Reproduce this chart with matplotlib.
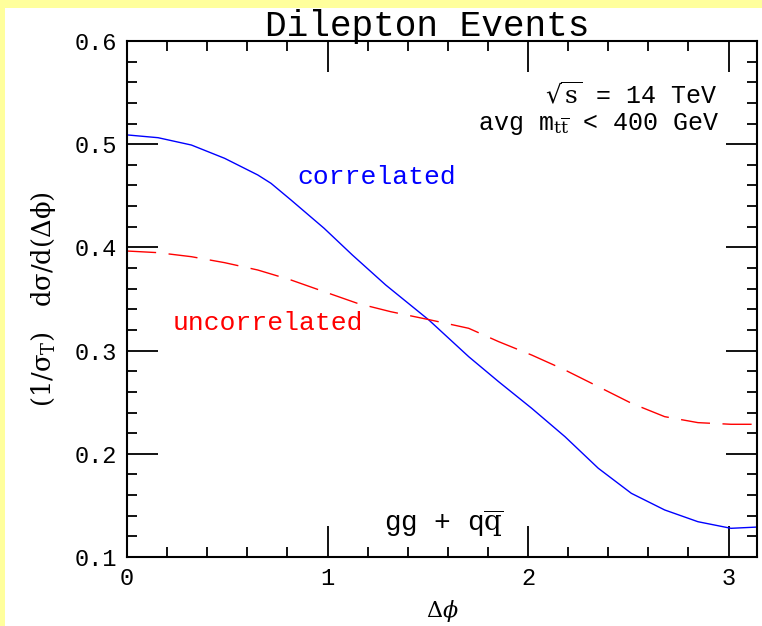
import numpy as np
import matplotlib
matplotlib.use("Agg")
import matplotlib.pyplot as plt
from matplotlib.patches import Rectangle
from matplotlib.ticker import MultipleLocator

# values
dphi_corr = [0.0, 0.155, 0.321, 0.487, 0.652, 0.718, 0.818, 0.983, 1.124, 1.29, 1.505,
             1.704, 1.853, 2.018, 2.184, 2.35, 2.515, 2.681, 2.847, 3.012, 3.1416]
correlated = [0.509, 0.5063, 0.4992, 0.4863, 0.4702, 0.4621, 0.4459, 0.4185, 0.3926, 0.3636, 0.3297,
              0.2941, 0.2699, 0.2441, 0.2166, 0.1860, 0.1617, 0.1456, 0.1342, 0.1278, 0.129]
dphi_unc = [0.0, 0.155, 0.321, 0.487, 0.652, 0.818, 0.983, 1.149, 1.315, 1.513,
            1.704, 1.853, 2.018, 2.184, 2.35, 2.515, 2.681, 2.847, 3.012, 3.1416]
uncorrelated = [0.3965, 0.3949, 0.391, 0.3852, 0.3781, 0.3684, 0.3571, 0.3458, 0.3377, 0.3297,
                0.3216, 0.3087, 0.2957, 0.2812, 0.2651, 0.249, 0.236, 0.2302, 0.2286, 0.2286]

plt.rcParams['mathtext.fontset'] = 'dejavuserif'
mono = ['Liberation Mono', 'DejaVu Sans']

fig = plt.figure(figsize=(7.62, 6.26), dpi=100)
fig.patch.set_facecolor('#ffff9c')
fig.add_artist(Rectangle((5 / 762, 0), 1, 1 - 8 / 626, transform=fig.transFigure,
                         facecolor='white', edgecolor='none', zorder=-1))

ax = fig.add_axes([127 / 762, 1 - 557 / 626, (757 - 127) / 762, (557 - 41) / 626])
ax.set_facecolor('white')

ax.plot(dphi_corr, correlated, color='blue', lw=1.0)
ax.plot(dphi_unc, uncorrelated, color='red', lw=1.0, dashes=(21, 9))

ax.set_xlim(0, np.pi)
ax.set_ylim(0.1, 0.6)
ax.xaxis.set_major_locator(MultipleLocator(1))
ax.xaxis.set_minor_locator(MultipleLocator(0.2))
ax.yaxis.set_major_locator(MultipleLocator(0.1))
ax.yaxis.set_minor_locator(MultipleLocator(0.02))
ax.tick_params(which='both', direction='in', top=True, right=True, width=1.3)
ax.tick_params(which='major', length=22, labelsize=17, pad=7)
ax.tick_params(which='minor', length=7)
for lab in ax.get_xticklabels() + ax.get_yticklabels():
    lab.set_family(mono)
for s in ax.spines.values():
    s.set_linewidth(1.5)

ax.set_xlabel(r'$\Delta\phi$', fontsize=16, labelpad=6, family=['DejaVu Sans'])
ax.set_ylabel(r'(1/σ$_{\rm T}$)   dσ/d(Δϕ)', fontsize=18.5, labelpad=12, family=['DejaVu Serif'])

ax.text(0.477, 1.0097, 'Dilepton Events', transform=ax.transAxes, family=mono,
        fontsize=26, ha='center', va='baseline')

ax.text(0.85, 0.468, 'correlated', color='blue', fontsize=19, family=mono, va='center')
ax.text(0.229, 0.327, 'uncorrelated', color='red', fontsize=19, family=mono, va='center')
ax.text(2.94, 0.548, r'$\sqrt{\rm s}$ = 14 TeV', fontsize=18, family=mono, ha='right', va='center')
ax.text(2.955, 0.520, r'avg m$_{\rm t\overline{t}}$ < 400 GeV', fontsize=18, family=mono,
        ha='right', va='center')
ax.text(1.58, 0.133, r'gg + q$\overline{\rm q}$', fontsize=20, family=mono, ha='center', va='center')

fig.savefig('out.png', dpi=100, facecolor=fig.get_facecolor())
